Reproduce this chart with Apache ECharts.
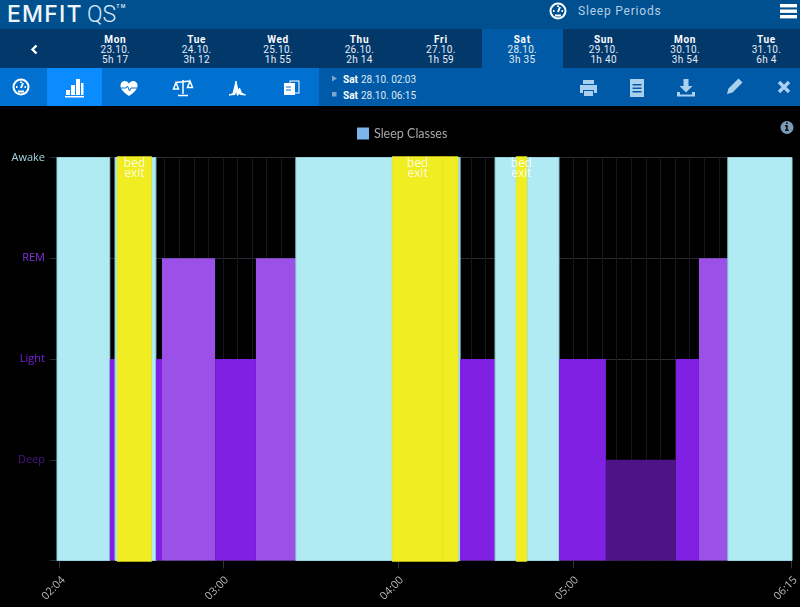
<!DOCTYPE html>
<html>
<head>
<meta charset="utf-8">
<title>Sleep Periods</title>
<script src="https://cdn.jsdelivr.net/npm/echarts@6/dist/echarts.min.js"></script>
<style>
html,body{margin:0;padding:0;background:#000;width:800px;height:607px;overflow:hidden;font-family:Roboto,sans-serif;color:#fff}
.abs{position:absolute}
#top{left:0;top:0;width:800px;height:29px;background:#00508f}
#logo{left:7px;top:1px;font:500 23px/26px Inter,sans-serif;letter-spacing:1.2px;color:#eef5fa}
#logo span{font:300 23px Roboto,sans-serif;color:#dce9f3;letter-spacing:0;margin-left:-3px}
#logo sup{font-size:5px;vertical-align:top;line-height:10px}
#pagetitle{left:578px;top:3px;font:12px/16px Roboto,sans-serif;letter-spacing:.8px;color:#b5cfe5}
#dates{left:0;top:29px;width:800px;height:39px;background:#03386b}
.day{position:absolute;top:0;width:81.5px;height:39px;text-align:center;font:10px/10px Roboto,sans-serif;letter-spacing:.3px;padding-top:6px;box-sizing:border-box;color:#e3edf6}
.day b{display:block;font-weight:700;color:#fff;letter-spacing:.7px}
.day.sel{background:#005aa5}
#tabs{left:0;top:68px;width:319px;height:38px;background:#0071d1}
#tabon{left:47px;top:68px;width:55px;height:38px;background:#0a8cff}
#tools{left:319px;top:68px;width:481px;height:38px;background:#005aa7}
.when{position:absolute;left:343px;font:10px/14px Roboto,sans-serif;color:#dfe9f3}
.when b{color:#fff;margin-right:3px}
svg.abs{overflow:visible}
#chart{left:0;top:106px;width:800px;height:501px}
</style>
</head>
<body>
<div id="chart" class="abs"></div>
<div id="top" class="abs"></div>
<div id="logo" class="abs">EMFIT <span>QS</span><sup>TM</sup></div>
<div id="pagetitle" class="abs">Sleep Periods</div>
<div id="dates" class="abs"></div>
<div id="tabs" class="abs"></div>
<div id="tabon" class="abs"></div>
<div id="tools" class="abs"></div>
<div class="when" style="top:73px"><b>Sat</b>28.10. 02:03</div>
<div class="when" style="top:89px"><b>Sat</b>28.10. 06:15</div>
<svg class="abs" style="left:0;top:0" width="800" height="607" fill="none">
  <!-- kopfzeile -->
  <g stroke="#fff" stroke-width="2"><circle cx="558" cy="11" r="7.500"/><path d="M558 12l2-5M553 11h1.500M561.500 11h1.500M558 5.500v1.500M555 15.500h6"/></g>
  <g fill="#fff"><rect x="780" y="4" width="17" height="3.400"/><rect x="780" y="9.500" width="17" height="3.400"/><rect x="780" y="15" width="17" height="3.400"/></g>
  <path d="M36.500 45.500l-4 4 4 4" stroke="#fff" stroke-width="2.400"/>
  <!-- tabs -->
  <g stroke="#fff" stroke-width="2"><circle cx="21" cy="87" r="7.500"/><path d="M21 88l2-5M16 87h1.500M24.500 87h1.500M21 81.500V83M18 91.500h6"/></g>
  <g fill="#fff"><rect x="66" y="90" width="4" height="5"/><rect x="71" y="85" width="4" height="10"/><rect x="76" y="79" width="4" height="16"/><rect x="81" y="83" width="2.500" height="12"/><rect x="65" y="96" width="19" height="1.500"/></g>
  <path d="M129 96c-6-4-8.500-7-8.500-10.500 0-5 6-6 8.500-2 2.500-4 8.500-3 8.500 2 0 3.500-2.500 6.500-8.500 10.500z" fill="#fff"/>
  <path d="M121 88h5l1.500-2 2 5 1.500-3h6" stroke="#0071d1" stroke-width="1"/>
  <g stroke="#fff" stroke-width="1.500"><path d="M183 80v14M178 95.500h10M176 82.500l14-1.500M176 82.500l-2.500 6.500h5zM190 81l-2.500 6.500h5z"/></g>
  <path d="M229 95l4-1.500 3-12.500 2 10 1.500-3 2 5 4 2-5-.5-1.500-1-1.500 2-1.500-6-1 5z" fill="#fff" stroke="#fff" stroke-width="1"/>
  <g><rect x="284" y="83" width="11" height="12" fill="#fff"/><rect x="290" y="81" width="9" height="12" stroke="#fff" stroke-width="1"/><path d="M286 87h5M286 90h5" stroke="#0071d1" stroke-width="1"/></g>
  <path d="M332 75.500l5 3-5 3z" fill="#7ea6cc"/><rect x="332" y="92" width="4.500" height="4.500" fill="#7ea6cc"/>
  <!-- rechte werkzeuge -->
  <g fill="#a9d0ef">
    <path d="M583 80h11v4h-11zM580 85h17v8h-3v-3h-11v3h-3zM584 91h9v5h-9z"/>
    <path d="M630 79h14v18h-14zM632.500 84v1.500h9V84zM632.500 87.500v1.500h9v-1.500zM632.500 91v1.500h9V91z" fill-rule="evenodd"/>
    <path d="M683.500 79h5v7h4l-6.500 6.500-6.500-6.500h4zM677 92h3v2.500h12V92h3v4.500h-18z"/>
    <path d="M727 94l1.500-5.500 10-10 4 4-10 10z"/>
  </g>
  <path d="M779 82l10 10M789 82l-10 10" stroke="#a9d0ef" stroke-width="3.400"/>
  <circle cx="787" cy="127.500" r="6.500" fill="#7b9ab8"/>
  <path d="M785 125h2.700v4.500h1V131h-3.700v-1.500h1v-3h-1zM786 122.500h1.700v1.500H786z" fill="#111"/>
</svg>
<script>
// tage im kopf
var dayNames = ['Mon','Tue','Wed','Thu','Fri','Sat','Sun','Mon','Tue'];
var dayDates = ['23.10.','24.10.','25.10.','26.10.','27.10.','28.10.','29.10.','30.10.','31.10.'];
var dayTotals = ['5h 17','3h 12','1h 55','2h 14','1h 59','3h 35','1h 40','3h 54','6h 4'];
var selectedDay = 5;

// schlafklassen, zeiten in minuten seit mitternacht
var classNames = ['', 'Deep', 'Light', 'REM', 'Awake'];
var classLabelColors = ['#000', '#4a148c', '#7c22dc', '#8433dc', '#a4d8e2'];
var classBarColors = ['#000', '#4d1488', '#8020e2', '#9b51e8', '#b0ebf4'];
var segmentStart = [123.1, 141.2, 143.0, 155.5, 157.0, 159.1, 177.3, 191.3, 205.0, 260.6, 261.3, 273.3, 284.2, 295.2, 311.3, 335.3, 343.2, 353.1];
var segmentEnd   = [141.2, 143.0, 155.5, 157.0, 159.1, 177.3, 191.3, 205.0, 260.6, 261.3, 273.3, 284.2, 295.2, 311.3, 335.3, 343.2, 353.1, 375.1];
var segmentClass = [4, 2, 4, 4, 2, 3, 2, 3, 4, 4, 2, 4, 4, 2, 1, 2, 3, 4];
var bedExitStart = [143.7, 238.0, 255.4, 280.5];
var bedExitEnd   = [155.5, 255.4, 260.6, 284.2];
var bedExitLabel = ['bed\nexit', 'bed\nexit', '', 'bed\nexit'];

var tickMinutes = [124, 180, 240, 300, 375];
var tickLabels = ['02:04', '03:00', '04:00', '05:00', '06:15'];
var gridMinutes = [];
for (var m = 125; m <= 375; m += 5) gridMinutes.push(m);

var xMin = 123.1, xMax = 375.1;

// kopfzeile aufbauen
var datesEl = document.getElementById('dates');
dayNames.forEach(function (name, i) {
	var d = document.createElement('div');
	d.className = 'day' + (i === selectedDay ? ' sel' : '');
	d.style.left = (74.5 + i * 81.4) + 'px';
	d.innerHTML = '<b>' + name + '</b>' + dayDates[i] + '<br>' + dayTotals[i];
	datesEl.appendChild(d);
});

var sleepRows = segmentStart.map(function (s, i) { return [s, segmentEnd[i], segmentClass[i]]; });
var bedRows = bedExitStart.map(function (s, i) { return [s, bedExitEnd[i], 4, bedExitLabel[i]]; });

function rectOf(api, top) {
	var a = api.coord([api.value(0), top]);
	var b = api.coord([api.value(1), 0]);
	return { x: a[0], y: a[1], width: b[0] - a[0], height: b[1] - a[1] };
}

var chart = echarts.init(document.getElementById('chart'));
chart.setOption({
	backgroundColor: '#000',
	animation: false,
	textStyle: { fontFamily: '"Open Sans", sans-serif' },
	legend: {
		left: 352, top: 16, itemWidth: 12, itemHeight: 12, itemGap: 6,
		icon: 'rect',
		data: ['Sleep Classes'],
		textStyle: { color: '#a8a8a8', fontSize: 12.5, fontFamily: 'Lato, sans-serif' }
	},
	grid: { left: 57, top: 51.5, width: 735, height: 403, outerBoundsMode: 'none' },
	xAxis: [{
		type: 'value', min: xMin, max: xMax,
		axisLine: { show: false },
		axisTick: { customValues: tickMinutes, length: 8, lineStyle: { color: '#33333c' } },
		axisLabel: {
			customValues: tickMinutes, rotate: 45, margin: 14, hideOverlap: false,
			verticalAlign: 'top',
			color: '#b8b8b8', fontSize: 11,
			showMinLabel: true, showMaxLabel: true,
			formatter: function (v) { return tickLabels[tickMinutes.indexOf(v)]; }
		},
		splitLine: { show: true, lineStyle: { color: '#2b2b33', width: 1 } }
	}, {
		type: 'value', min: xMin, max: xMax, position: 'bottom',
		axisLine: { show: false },
		axisTick: { show: false, customValues: gridMinutes },
		axisLabel: { show: false },
		splitLine: { show: true, lineStyle: { color: '#17171c', width: 1 } }
	}],
	yAxis: {
		type: 'value', min: 0, max: 4, interval: 1,
		axisLine: { show: false },
		axisTick: { show: true, length: 7, lineStyle: { color: '#2b2b33' } },
		splitLine: { show: true, lineStyle: { color: '#2b2b33', width: 1 } },
		axisLabel: {
			margin: 12, fontSize: 11, padding: [2, 0, 0, 0],
			formatter: function (v) { return classNames[v]; },
			color: function (v) { return classLabelColors[+v]; }
		}
	},
	series: [{
		name: 'Sleep Classes',
		type: 'custom',
		color: '#7cb5ec',
		data: sleepRows,
		encode: { x: [0, 1], y: 2 },
		renderItem: function (params, api) {
			var level = api.value(2);
			return {
				type: 'rect',
				shape: rectOf(api, level),
				style: {
					fill: classBarColors[level],
					stroke: level === 4 ? '#92d2de' : null,
					lineWidth: level === 4 ? 1 : 0
				}
			};
		}
	}, {
		name: 'Bed exit',
		type: 'custom',
		data: bedRows,
		encode: { x: [0, 1], y: 2 },
		z: 3,
		renderItem: function (params, api) {
			var r = rectOf(api, api.value(2));
			r.y -= 1;
			r.height += 2;
			return {
				type: 'rect',
				shape: r,
				style: { fill: '#f0ee22', stroke: '#e4e01a', lineWidth: 0.5 },
				textContent: {
					type: 'text',
					style: {
						text: bedRows[params.dataIndex][3],
						fill: 'rgba(255,255,255,0.85)', fontSize: 12, lineHeight: 10,
						fontFamily: '"Open Sans", sans-serif', align: 'center'
					}
				},
				textConfig: { position: 'insideTop', distance: 2 }
			};
		}
	}]
});
</script>
</body>
</html>
